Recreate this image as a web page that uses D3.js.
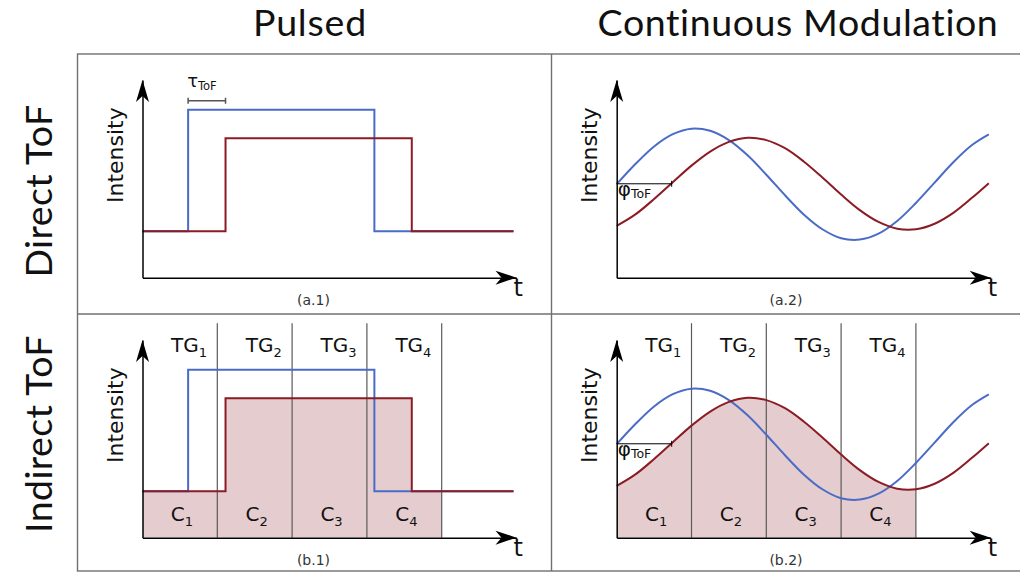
<!DOCTYPE html>
<html>
<head>
<meta charset="utf-8">
<script src="https://cdn.jsdelivr.net/npm/d3@7"></script>
<style>
  body { margin: 0; background: #fff; }
  svg { display: block; }
  .title { font-family: Lato, sans-serif; font-size: 37.5px; fill: #111; }
</style>
</head>
<body>
<svg id="chart" width="1020" height="574"></svg>
<script>
// chart values (time / intensity in arbitrary units, axis runs 0..10)
var colTitles = ["Pulsed", "Continuous Modulation"];
var rowTitles = ["Direct ToF", "Indirect ToF"];
var captions = [["(a.1)", "(a.2)"], ["(b.1)", "(b.2)"]];

var gateEdges = [0, 2, 4, 6, 8];
var gateNames = ["1", "2", "3", "4"];

// pulsed signals, step-after
var emittedPulseT = [0, 1.22, 6.2, 9.92];
var emittedPulse = [2.35, 8.5, 2.35, 2.35];
var receivedPulseT = [0, 2.22, 7.2, 9.92];
var receivedPulse = [2.35, 7.05, 2.35, 2.35];
var tauToF = [1.22, 2.22];

// continuous modulation
var sineT = [0, 0.5, 1, 1.5, 2, 2.5, 3, 3.5, 4, 4.5, 5, 5.5, 6, 6.5, 7, 7.5, 8, 8.5, 9, 9.5, 9.95];
var emittedSine = [4.73, 5.75, 6.64, 7.26, 7.54, 7.43, 6.96, 6.19, 5.21, 4.17, 3.20, 2.45, 2.00, 1.93, 2.23, 2.87, 3.78, 4.81, 5.84, 6.71, 7.25];
var receivedSine = [2.62, 3.20, 3.98, 4.83, 5.67, 6.38, 6.87, 7.08, 6.96, 6.55, 5.88, 5.07, 4.21, 3.42, 2.82, 2.48, 2.45, 2.73, 3.28, 4.04, 4.78];
var phiToF = [0, 1.47];
var phiLevel = 4.75;

var BLUE = "#4a6cc6", RED = "#8b1b24", FILL = "#e4cccf", GATE = "#5a5a5a", FRAME = "#707070";
var PANEL_FONT = "'DejaVu Sans', Verdana, sans-serif";

var svg = d3.select("#chart");

// frame
svg.append("rect")
    .attr("x", 77.5).attr("y", 54)
    .attr("width", 960).attr("height", 517)
    .attr("fill", "none").attr("stroke", FRAME).attr("stroke-width", 1.4);
svg.append("line").attr("x1", 551.5).attr("x2", 551.5).attr("y1", 54).attr("y2", 571)
    .attr("stroke", FRAME).attr("stroke-width", 1.4);
svg.append("line").attr("x1", 77.5).attr("x2", 1020).attr("y1", 314).attr("y2", 314)
    .attr("stroke", FRAME).attr("stroke-width", 1.4);

// titles
svg.selectAll(".col-title").data(colTitles).enter()
    .append("text").attr("class", "title")
    .attr("x", function(d, i){ return [310, 798][i]; })
    .attr("y", 36)
    .attr("text-anchor", "middle")
    .attr("letter-spacing", function(d, i){ return [0.8, 0.6][i]; })
    .text(function(d){ return d; });

svg.selectAll(".row-title").data(rowTitles).enter()
    .append("text").attr("class", "title")
    .attr("transform", function(d, i){
	return "translate(52," + [191, 434][i] + ") rotate(-90)";
    })
    .attr("text-anchor", "middle")
    .attr("letter-spacing", 0.4)
    .text(function(d){ return d; });

var x = d3.scaleLinear().domain([0, 10]).range([0, 374]);
var y = d3.scaleLinear().domain([0, 10]).range([0, -197.7]);

var zip = function(ts, vs){
    return ts.map(function(t, i){ return [t, vs[i]]; });
};

var stepLine = d3.line().x(function(d){ return x(d[0]); }).y(function(d){ return y(d[1]); })
    .curve(d3.curveStepAfter);
var stepArea = d3.area().x(function(d){ return x(d[0]); }).y0(y(0)).y1(function(d){ return y(d[1]); })
    .curve(d3.curveStepAfter);
var smoothLine = d3.line().x(function(d){ return x(d[0]); }).y(function(d){ return y(d[1]); })
    .curve(d3.curveCatmullRom.alpha(0.5));
var smoothArea = d3.area().x(function(d){ return x(d[0]); }).y0(y(0)).y1(function(d){ return y(d[1]); })
    .curve(d3.curveCatmullRom.alpha(0.5));

var arrowRight = "M0,0 L-21,-7 L-15,0 L-21,7 Z";
var arrowUp = "M0,0 L-6.5,22 L0,16 L6.5,22 Z";

var addSub = function(sel, main, sub, size, subSize, dy){
    sel.append("tspan").attr("font-size", size).text(main);
    sel.append("tspan").attr("font-size", subSize).attr("dy", dy).text(sub);
};

var drawPanel = function(row, col){
    var ox = [142.5, 616.7][col];
    var oy = [277.7, 537.7][row];
    var pulsed = col == 0;
    var gated = row == 1;
    var id = "clip" + row + col;

    var g = svg.append("g")
	.attr("font-family", PANEL_FONT)
	.attr("transform", "translate(" + ox + "," + oy + ")");

    var emitted = pulsed ? zip(emittedPulseT, emittedPulse) : zip(sineT, emittedSine);
    var received = pulsed ? zip(receivedPulseT, receivedPulse) : zip(sineT, receivedSine);
    var line = pulsed ? stepLine : smoothLine;
    var area = pulsed ? stepArea : smoothArea;

    if (gated){
	g.append("clipPath").attr("id", id)
	    .append("rect")
	    .attr("x", x(gateEdges[0])).attr("y", y(11))
	    .attr("width", x(gateEdges[gateEdges.length - 1]) - x(gateEdges[0]))
	    .attr("height", y(0) - y(11));
	g.append("path")
	    .attr("d", area(received))
	    .attr("fill", FILL)
	    .attr("clip-path", "url(#" + id + ")");

	g.selectAll(".gate").data(gateEdges.slice(1)).enter()
	    .append("line")
	    .attr("x1", function(d){ return x(d); })
	    .attr("x2", function(d){ return x(d); })
	    .attr("y1", y(10.85)).attr("y2", y(0))
	    .attr("stroke", GATE).attr("stroke-width", 1.2);

	gateNames.forEach(function(n, i){
	    var t = g.append("text")
		.attr("x", x(gateEdges[i]) + 28.5)
		.attr("y", -186)
		.attr("fill", "#111");
	    addSub(t, "TG", n, 20, 13, 5);
	    var c = g.append("text")
		.attr("x", (x(gateEdges[i]) + x(gateEdges[i + 1])) / 2 + 2)
		.attr("y", -16.5)
		.attr("text-anchor", "middle")
		.attr("fill", "#111");
	    addSub(c, "C", n, 20, 13, 5);
	});
    }

    g.append("path").attr("d", line(emitted))
	.attr("fill", "none").attr("stroke", BLUE).attr("stroke-width", 2);
    g.append("path").attr("d", line(received))
	.attr("fill", "none").attr("stroke", RED).attr("stroke-width", 2);

    // axes without ticks, plus arrow heads
    g.append("g")
	.call(d3.axisBottom(x).ticks(0).tickSizeOuter(0))
	.select(".domain").attr("stroke", "#000").attr("stroke-width", 1.5);
    g.append("g")
	.call(d3.axisLeft(y).ticks(0).tickSizeOuter(0))
	.select(".domain").attr("stroke", "#000").attr("stroke-width", 1.5);
    g.append("path").attr("d", arrowRight)
	.attr("transform", "translate(" + x(10) + ",0)").attr("fill", "#000");
    g.append("path").attr("d", arrowUp)
	.attr("transform", "translate(0," + y(10) + ")").attr("fill", "#000");

    g.append("text")
	.attr("x", x(10) - 3).attr("y", 18)
	.attr("font-size", 24).attr("fill", "#111")
	.text("t");
    g.append("text")
	.attr("transform", "translate(-20," + y(6.2) + ") rotate(-90)")
	.attr("text-anchor", "middle")
	.attr("font-size", 22).attr("fill", "#111")
	.text("Intensity");

    g.append("text")
	.attr("x", [313.5, 786][col] - ox).attr("y", 27.5)
	.attr("text-anchor", "middle")
	.attr("font-size", 14).attr("fill", "#333")
	.text(captions[row][col]);

    if (pulsed && !gated){
	var by = y(8.95);
	g.append("path")
	    .attr("d", "M" + x(tauToF[0]) + "," + (by - 3) + "V" + (by + 3)
		  + "M" + x(tauToF[0]) + "," + by + "H" + x(tauToF[1])
		  + "M" + x(tauToF[1]) + "," + (by - 3) + "V" + (by + 3))
	    .attr("stroke", "#555").attr("stroke-width", 1.5).attr("fill", "none");
	var tt = g.append("text").attr("x", x(tauToF[0]) - 1).attr("y", by - 14).attr("fill", "#111");
	addSub(tt, "τ", "ToF", 18, 11.5, 3);
    }
    if (!pulsed){
	var py = y(phiLevel);
	g.append("path")
	    .attr("d", "M" + x(phiToF[0]) + "," + py + "H" + x(phiToF[1])
		  + "M" + x(phiToF[1]) + "," + (py - 3) + "V" + (py + 3))
	    .attr("stroke", "#000").attr("stroke-width", 1).attr("fill", "none");
	var pt = g.append("text").attr("x", x(phiToF[0]) + 1).attr("y", py + 12).attr("fill", "#111");
	addSub(pt, "φ", "ToF", 20, 12.5, 2);
    }
};

[0, 1].forEach(function(r){
    [0, 1].forEach(function(c){ drawPanel(r, c); });
});
</script>
</body>
</html>
